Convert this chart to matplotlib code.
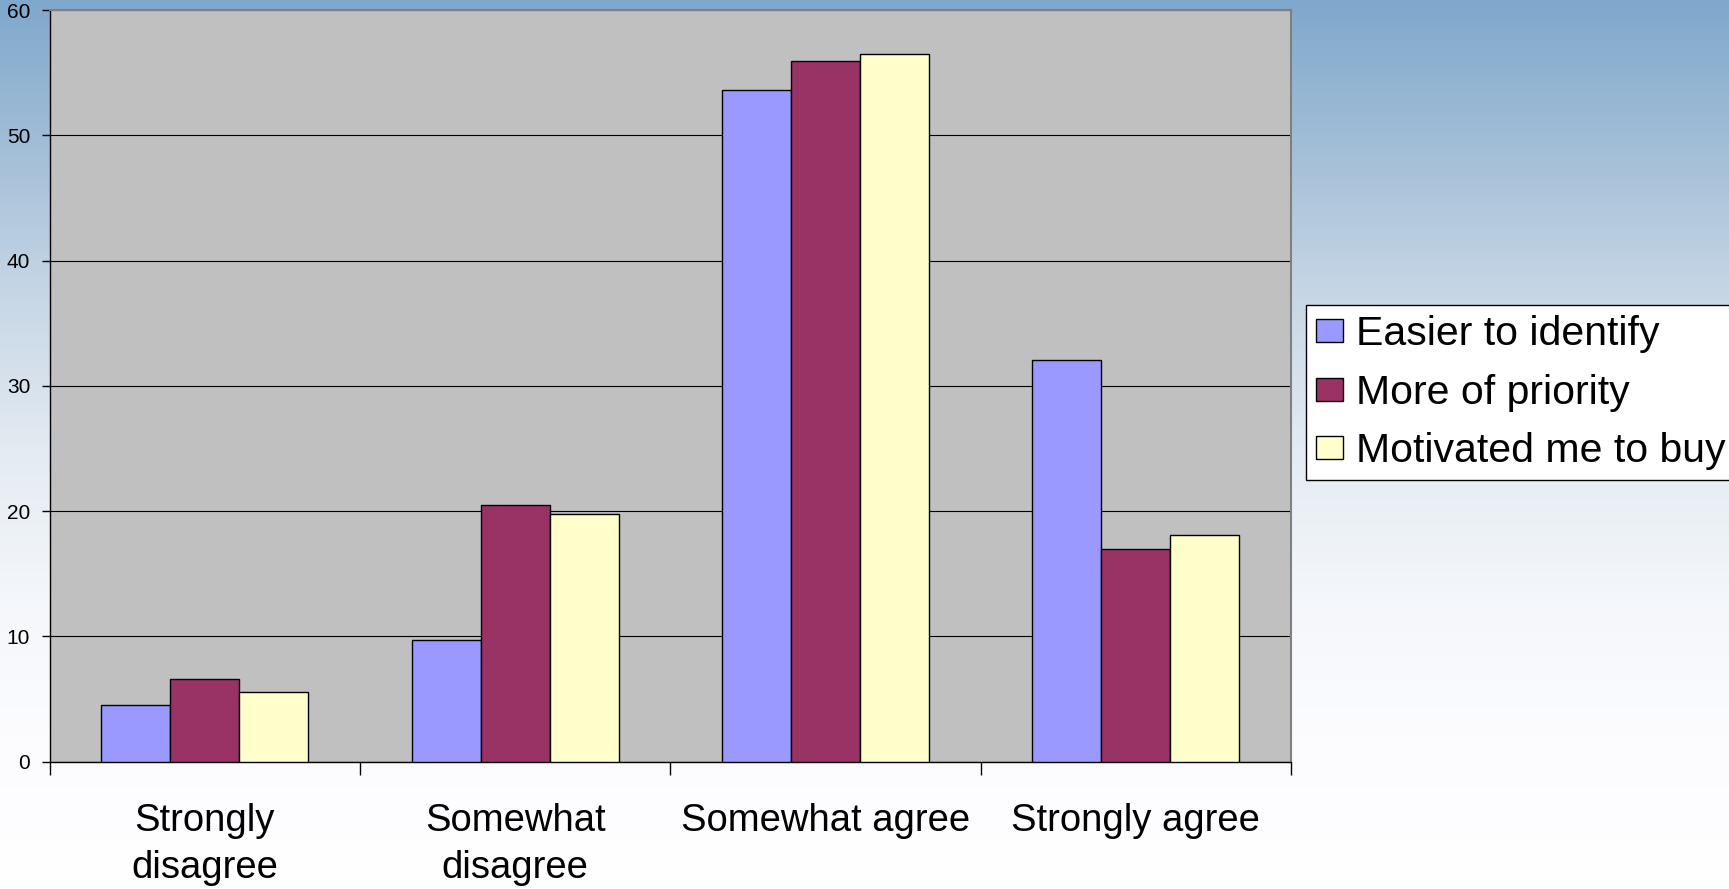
import numpy as np
import matplotlib
matplotlib.use("Agg")
import matplotlib.pyplot as plt

plt.rcParams['font.family'] = ['Liberation Sans', 'DejaVu Sans']

# ---- data ----
categories = ['Strongly\ndisagree', 'Somewhat\ndisagree', 'Somewhat agree', 'Strongly agree']
series_names = ['Easier to identify', 'More of priority', 'Motivated me to buy']
easier = [4.5, 9.7, 53.6, 32.1]
priority = [6.6, 20.5, 55.9, 17.0]
motivated = [5.6, 19.8, 56.5, 18.1]
y_ticks = [0, 10, 20, 30, 40, 50, 60]

colors = ['#9999ff', '#993366', '#ffffcc']

W, H = 1729, 889
fig = plt.figure(figsize=(W / 100, H / 100), dpi=100)

# ---- background gradient ----
bg = fig.add_axes([0, 0, 1, 1], zorder=-10)
stops_y = [0, 150, 300, 450, 600, 735, 889]
stops_c = np.array([(127, 168, 204), (163, 190, 215), (200, 215, 230),
                    (228, 235, 242), (244, 247, 251), (252, 252, 255),
                    (255, 255, 255)]) / 255.0
ys = np.arange(H)
img = np.zeros((H, 1, 3))
for k in range(3):
    img[:, 0, k] = np.interp(ys, stops_y, stops_c[:, k])
bg.imshow(img, aspect='auto', extent=[0, 1, 0, 1], origin='upper', interpolation='bilinear')
bg.set_xlim(0, 1)
bg.set_ylim(0, 1)
bg.axis('off')

# ---- main axes ----
left, right = 49.6 / W, 1291 / W
top, bottom = 1 - 10 / H, 1 - 761.7 / H
ax = fig.add_axes([left, bottom, right - left, top - bottom])
ax.set_facecolor('#c0c0c0')

x = np.arange(len(categories))
w = 1 / 4.5
for i, (vals, name) in enumerate(zip([easier, priority, motivated], series_names)):
    ax.bar(x + (i - 1) * w, vals, w, color=colors[i], edgecolor='black',
           linewidth=1.0, label=name, zorder=3)

ax.set_xlim(-0.5, len(categories) - 0.5)
ax.set_ylim(0, 60)
ax.set_yticks(y_ticks)
ax.set_yticklabels([str(v) for v in y_ticks], fontsize=15)
ax.yaxis.grid(True, color='black', linewidth=0.8)
ax.set_axisbelow(True)

for s in ['left', 'bottom']:
    ax.spines[s].set_color('black')
    ax.spines[s].set_linewidth(1.0)
for s in ['top', 'right']:
    ax.spines[s].set_color('#808080')
    ax.spines[s].set_linewidth(1.5)

ax.set_xticks(np.arange(len(categories) + 1) - 0.5)
ax.set_xticklabels([''] * (len(categories) + 1))
ax.set_xticks(x, minor=True)
ax.set_xticklabels(categories, minor=True, fontsize=27.5, linespacing=1.38)
ax.tick_params(axis='x', which='major', length=9.4, width=1, direction='out', color='black')
ax.tick_params(axis='x', which='minor', length=0, pad=30)
ax.tick_params(axis='y', length=5.5, width=1, direction='out', pad=8.5)

# ---- legend ----
handles, labels = ax.get_legend_handles_labels()
leg = fig.legend(handles, labels, loc='upper left',
                 bbox_to_anchor=(1306 / W, 1 - 305 / H), bbox_transform=fig.transFigure,
                 fontsize=29.5, frameon=True, fancybox=False, edgecolor='black',
                 facecolor='white', framealpha=1, borderpad=0.25, labelspacing=0.5,
                 handlelength=0.65, handleheight=0.5, handletextpad=0.33, borderaxespad=0)
leg.get_frame().set_linewidth(1.0)

fig.savefig('out.png', dpi=100)
